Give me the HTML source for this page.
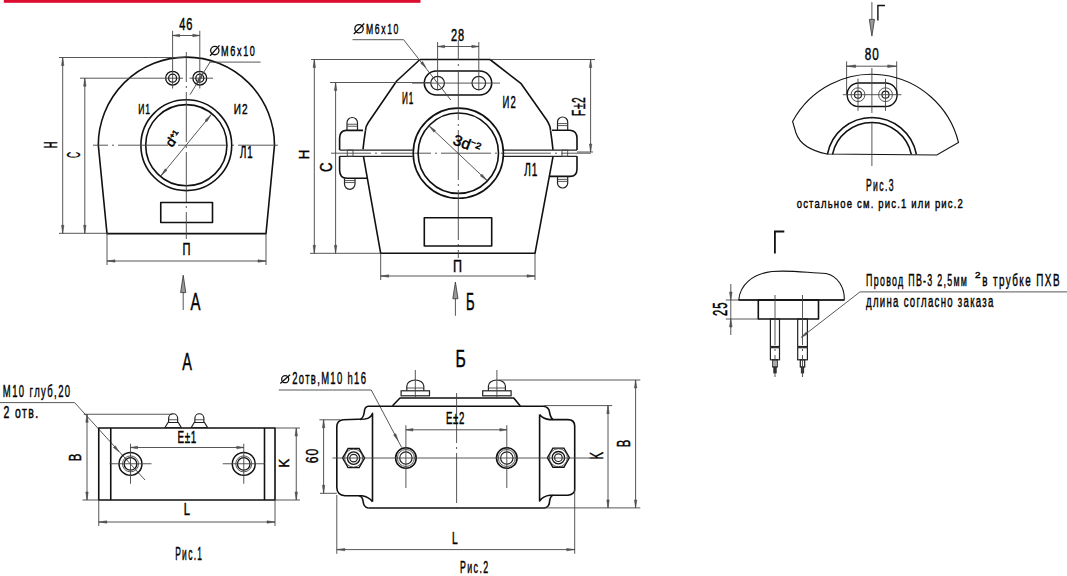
<!DOCTYPE html>
<html><head><meta charset="utf-8"><style>
html,body{margin:0;padding:0;background:#fff;}
svg{display:block;}
.t{fill:none;stroke:#111;stroke-width:1.6;stroke-linejoin:round;}
.m{fill:none;stroke:#222;stroke-width:1.2;}
.n{fill:none;stroke:#444;stroke-width:0.9;}
.g{fill:none;stroke:#111;stroke-width:1.8;}
.g2{fill:none;stroke:#111;stroke-width:1.4;}
.t15{fill:none;stroke:#111;stroke-width:1.5;}
.hb{fill:none;stroke:#111;stroke-width:1.3;}
.m1{fill:none;stroke:#111;stroke-width:1.1;}
.m2{fill:none;stroke:#111;stroke-width:1.4;}
.sy{fill:none;stroke:#111;stroke-width:1.3;}
.cl{fill:none;stroke:#444;stroke-width:0.9;stroke-dasharray:50 4 2 4;}
.ar{fill:#555;stroke:#444;stroke-width:0.5;}
.ba{fill:#999;stroke:#333;stroke-width:0.8;}
.f{fill:#222;stroke:#222;stroke-width:0.8;}
.tx{font-family:"Liberation Sans",sans-serif;fill:#000;stroke:#000;stroke-width:0.45;}
</style></head><body>
<svg width="1067" height="576" viewBox="0 0 1067 576">
<rect width="1067" height="576" fill="#fff"/>
<rect x="3.8" y="0" width="416.7" height="2.8" fill="#dc0b30"/>
<path d="M98.3,145.2 A88,88 0 0 1 274.5,145.2 L266,233.6 L107,233.6 Z" class="t"/>
<circle cx="186.3" cy="145.2" r="45.4" class="t"/>
<circle cx="186.3" cy="145.2" r="40.6" class="t"/>
<rect x="160.75" y="202.5" width="51.75" height="20" rx="0" class="t"/>
<circle cx="172.6" cy="78.2" r="6.9" class="hb"/>
<circle cx="172.6" cy="78.2" r="4" class="hb"/>
<line x1="172.6" y1="30.8" x2="172.6" y2="88.5" class="n"/>
<circle cx="199.8" cy="78.2" r="6.9" class="hb"/>
<circle cx="199.8" cy="78.2" r="4" class="hb"/>
<line x1="199.8" y1="30.8" x2="199.8" y2="88.5" class="n"/>
<line x1="93" y1="145.2" x2="278" y2="145.2" class="cl" stroke-dashoffset="35"/>
<line x1="186.3" y1="52" x2="186.3" y2="239" class="cl" stroke-dashoffset="20"/>
<line x1="160" y1="78.2" x2="183" y2="78.2" class="n"/>
<line x1="189.5" y1="78.2" x2="213" y2="78.2" class="n"/>
<line x1="59" y1="57.5" x2="185" y2="57.5" class="n"/>
<line x1="59" y1="233.3" x2="107" y2="233.3" class="n"/>
<line x1="62.7" y1="57.5" x2="62.7" y2="233.3" class="n"/>
<path d="M62.7,57.5 L63.9,65.5 L61.5,65.5 Z" class="ar"/>
<path d="M62.7,233.3 L61.5,225.3 L63.9,225.3 Z" class="ar"/>
<line x1="80" y1="78.2" x2="160" y2="78.2" class="n"/>
<line x1="84.8" y1="78.2" x2="84.8" y2="233.3" class="n"/>
<path d="M84.8,78.2 L86,86.2 L83.6,86.2 Z" class="ar"/>
<path d="M84.8,233.3 L83.6,225.3 L86,225.3 Z" class="ar"/>
<text transform="translate(57,148.3) rotate(-90) scale(0.5333333333333342,1)" textLength="12.75" lengthAdjust="spacing" font-size="17.54" class="tx">H</text>
<text transform="translate(79.5,158) rotate(-90) scale(0.4784313725490192,1)" textLength="12.75" lengthAdjust="spacing" font-size="17.54" class="tx">C</text>
<line x1="172.6" y1="35.5" x2="199.8" y2="35.5" class="n"/>
<path d="M172.6,35.5 L179.6,34.2 L179.6,36.8 Z" class="ar"/>
<path d="M199.8,35.5 L192.8,36.8 L192.8,34.2 Z" class="ar"/>
<text transform="translate(179.2,30.3) scale(0.668934865900384,1)" textLength="19.73" lengthAdjust="spacing" font-size="16.52" class="tx">46</text>
<circle cx="214.8" cy="50.6" r="4.16" class="sy"/>
<line x1="210.1" y1="55.8" x2="219.5" y2="45.4" class="sy"/>
<text transform="translate(221,55.8) scale(0.6023006853474452,1)" textLength="56.28" lengthAdjust="spacing" font-size="15.07" class="tx">M6x10</text>
<line x1="209" y1="62.1" x2="260.6" y2="62.1" class="n"/>
<line x1="210" y1="62.1" x2="190" y2="94.7" class="n"/>
<path d="M203.5,72.6 L201.01,79.27 L198.78,77.93 Z" class="ar"/>
<path d="M195.8,85.3 L198.29,78.63 L200.52,79.97 Z" class="ar"/>
<line x1="161" y1="175.8" x2="211" y2="114.8" class="n"/>
<path d="M161,175.8 L165.14,168.85 L167,170.37 Z" class="ar"/>
<path d="M211,114.8 L206.86,121.75 L205,120.23 Z" class="ar"/>
<text transform="translate(172,148) rotate(-55)" textLength="17" lengthAdjust="spacingAndGlyphs" font-size="13" class="tx">d⁺¹</text>
<text transform="translate(138.25,113.75) scale(0.5911749788672865,1)" textLength="19.88" lengthAdjust="spacing" font-size="14.49" class="tx">И1</text>
<text transform="translate(233.75,113.75) scale(0.6918005071851226,1)" textLength="19.88" lengthAdjust="spacing" font-size="14.49" class="tx">И2</text>
<text transform="translate(240,157.5) scale(0.5900079302141158,1)" textLength="21.19" lengthAdjust="spacing" font-size="16.30" class="tx">Л1</text>
<line x1="107" y1="233.3" x2="107" y2="265" class="n"/>
<line x1="266" y1="233.3" x2="266" y2="265" class="n"/>
<line x1="107" y1="261" x2="266" y2="261" class="n"/>
<path d="M107,261 L115,259.8 L115,262.2 Z" class="ar"/>
<path d="M266,261 L258,262.2 L258,259.8 Z" class="ar"/>
<text transform="translate(182.5,255) scale(0.6956521739130435,1)" textLength="11.5" lengthAdjust="spacing" font-size="15.94" class="tx">П</text>
<line x1="183.2" y1="292" x2="183.2" y2="310" class="n"/>
<path d="M183.2,275.2 L185.8,292.6 L180.6,292.6 Z" class="ba"/>
<text transform="translate(190.4,310.4) scale(0.625,1)" textLength="16" lengthAdjust="spacing" font-size="23.91" class="tx">A</text>
<path d="M420,59.5 L490,59.5 L520.8,83.3 L546.7,120 Q550.5,126 550.5,130.3" class="t"/>
<path d="M420,59.5 L396.7,81 L368.3,122.5 Q365.8,126 365.5,130.4" class="t"/>
<path d="M365.5,130.4 Q364,140 363,149.3" class="t"/>
<path d="M550.5,130.3 Q552,140 553,149.8" class="t"/>
<path d="M363.5,156.7 L380.7,253.3 L535,253.3 L553,156.7" class="t"/>
<line x1="339.6" y1="150.1" x2="412.6" y2="150.1" class="m"/>
<line x1="504" y1="150.1" x2="577" y2="150.1" class="m"/>
<line x1="339.6" y1="156.3" x2="412.6" y2="156.3" class="m"/>
<line x1="504" y1="156.3" x2="577" y2="156.3" class="m"/>
<line x1="331" y1="153.2" x2="591" y2="153.2" class="cl" stroke-dashoffset="10"/>
<circle cx="458.3" cy="153.2" r="45.1" class="t"/>
<circle cx="458.3" cy="153.2" r="40.2" class="t"/>
<path d="M363,130.4 L346,130.4 Q339.6,131 339.6,138 L339.6,150.1" class="t"/>
<path d="M339.6,156.3 L339.6,170 Q339.6,178.3 347,178.3 L367.6,178.3" class="t"/>
<path d="M552,130.2 L570,130.2 Q577,131 577,138 L577,150.1" class="t"/>
<path d="M577,156.3 L577,169 Q577,176.4 570,176.4 L550,176.4" class="t"/>
<rect x="347.3" y="150.1" width="5.7" height="6.2" rx="0" class="n"/>
<rect x="562" y="150.1" width="5.7" height="6.2" rx="0" class="n"/>
<path d="M347,130.4 L347,122.75 A5.25,5.25 0 0 1 357.5,122.75 L357.5,130.4" class="m"/>
<line x1="347" y1="124.25" x2="357.5" y2="124.25" class="n"/>
<line x1="347" y1="126.25" x2="357.5" y2="126.25" class="n"/>
<path d="M557.5,130.2 L557.5,122.1 A5.1,5.1 0 0 1 567.7,122.1 L567.7,130.2" class="m"/>
<line x1="557.5" y1="123.6" x2="567.7" y2="123.6" class="n"/>
<line x1="557.5" y1="125.6" x2="567.7" y2="125.6" class="n"/>
<path d="M344.5,178.3 L344.5,184.05 A5.25,5.25 0 0 0 355,184.05 L355,178.3" class="m"/>
<line x1="344.5" y1="182.55" x2="355" y2="182.55" class="n"/>
<line x1="344.5" y1="180.55" x2="355" y2="180.55" class="n"/>
<path d="M557.5,176.4 L557.5,182.9 A5.1,5.1 0 0 0 567.7,182.9 L567.7,176.4" class="m"/>
<line x1="557.5" y1="181.4" x2="567.7" y2="181.4" class="n"/>
<line x1="557.5" y1="179.4" x2="567.7" y2="179.4" class="n"/>
<rect x="424.3" y="71" width="67.4" height="24" rx="12" class="t"/>
<circle cx="437.6" cy="83.1" r="6.8" class="m"/>
<line x1="437.6" y1="42" x2="437.6" y2="90" class="n"/>
<circle cx="478.8" cy="83.1" r="6.8" class="m"/>
<line x1="478.8" y1="42" x2="478.8" y2="90" class="n"/>
<line x1="412" y1="83.1" x2="500" y2="83.1" class="n"/>
<line x1="437.6" y1="46.5" x2="478.8" y2="46.5" class="n"/>
<path d="M437.6,46.5 L444.6,45.2 L444.6,47.8 Z" class="ar"/>
<path d="M478.8,46.5 L471.8,47.8 L471.8,45.2 Z" class="ar"/>
<text transform="translate(450.9,40.6) scale(0.6955504014272983,1)" textLength="18.83" lengthAdjust="spacing" font-size="15.80" class="tx">28</text>
<circle cx="359.05" cy="28.75" r="4.2" class="sy"/>
<line x1="353.8" y1="34" x2="364.3" y2="23.5" class="sy"/>
<text transform="translate(366,34) scale(0.5663156097977294,1)" textLength="57.21" lengthAdjust="spacing" font-size="15.22" class="tx">M6x10</text>
<line x1="352.5" y1="39.7" x2="403.6" y2="39.7" class="n"/>
<line x1="403.6" y1="39.7" x2="450.8" y2="100" class="n"/>
<path d="M426,67.8 L420.63,63.13 L422.67,61.51 Z" class="ar"/>
<line x1="458.3" y1="40" x2="458.3" y2="258" class="cl" stroke-dashoffset="30"/>
<line x1="311" y1="59.5" x2="420" y2="59.5" class="n"/>
<line x1="490" y1="59.5" x2="595" y2="59.5" class="n"/>
<line x1="310" y1="253.3" x2="380.7" y2="253.3" class="n"/>
<line x1="314.3" y1="59.5" x2="314.3" y2="253.3" class="n"/>
<path d="M314.3,59.5 L315.5,67.5 L313.1,67.5 Z" class="ar"/>
<path d="M314.3,253.3 L313.1,245.3 L315.5,245.3 Z" class="ar"/>
<line x1="330" y1="82.5" x2="430" y2="82.5" class="n"/>
<line x1="335.6" y1="82.5" x2="335.6" y2="253.3" class="n"/>
<path d="M335.6,82.5 L336.8,90.5 L334.4,90.5 Z" class="ar"/>
<path d="M335.6,253.3 L334.4,245.3 L336.8,245.3 Z" class="ar"/>
<text transform="translate(308.5,159.5) rotate(-90) scale(0.9090909090909091,1)" textLength="11" lengthAdjust="spacing" font-size="15.22" class="tx">H</text>
<text transform="translate(331.5,172) rotate(-90) scale(0.8260869565217391,1)" textLength="11.5" lengthAdjust="spacing" font-size="15.94" class="tx">C</text>
<line x1="428.9" y1="125.8" x2="487" y2="180.5" class="n"/>
<path d="M428.9,125.8 L435.55,130.41 L433.9,132.16 Z" class="ar"/>
<path d="M487,180.5 L480.35,175.89 L482,174.14 Z" class="ar"/>
<text transform="translate(452,144) rotate(20)" textLength="28" lengthAdjust="spacingAndGlyphs" font-size="15" class="tx">3d⁻²</text>
<text transform="translate(401.9,104.1) scale(0.49959220055710357,1)" textLength="22.62" lengthAdjust="spacing" font-size="16.38" class="tx">И1</text>
<text transform="translate(502.6,107.6) scale(0.5791732590529258,1)" textLength="22.62" lengthAdjust="spacing" font-size="16.38" class="tx">И2</text>
<text transform="translate(524.3,176.1) scale(0.5741620029455091,1)" textLength="22.82" lengthAdjust="spacing" font-size="17.54" class="tx">Л1</text>
<line x1="590.6" y1="59.5" x2="590.6" y2="152" class="n"/>
<path d="M590.6,59.5 L591.8,67.5 L589.4,67.5 Z" class="ar"/>
<path d="M590.6,152 L589.4,144 L591.8,144 Z" class="ar"/>
<line x1="577" y1="152" x2="593" y2="152" class="n"/>
<text transform="translate(585,115.9) rotate(-90) scale(0.5630575439484002,1)" textLength="33.21" lengthAdjust="spacing" font-size="18.12" class="tx">F±2</text>
<rect x="424.3" y="217.7" width="67.4" height="28.3" rx="0" class="t"/>
<line x1="380.7" y1="253.3" x2="380.7" y2="280" class="n"/>
<line x1="535" y1="253.3" x2="535" y2="280" class="n"/>
<line x1="380.7" y1="276" x2="535" y2="276" class="n"/>
<path d="M380.7,276 L388.7,274.8 L388.7,277.2 Z" class="ar"/>
<path d="M535,276 L527,277.2 L527,274.8 Z" class="ar"/>
<text transform="translate(453,272) scale(0.75,1)" textLength="12" lengthAdjust="spacing" font-size="16.67" class="tx">П</text>
<line x1="455.4" y1="298" x2="455.4" y2="315.8" class="n"/>
<path d="M455.4,282 L458,298.75 L452.8,298.75 Z" class="ba"/>
<text transform="translate(466,309.9) scale(0.5437499999999993,1)" textLength="16" lengthAdjust="spacing" font-size="24.20" class="tx">Б</text>
<line x1="871.9" y1="2.1" x2="871.9" y2="20" class="n"/>
<path d="M871.9,36.1 L874.5,19.4 L869.3,19.4 Z" class="ba"/>
<path d="M877.9,20.5 L877.9,5.5 L885,5.5" class="g2"/>
<text transform="translate(864.7,60.4) scale(0.6785667752442998,1)" textLength="20.63" lengthAdjust="spacing" font-size="17.25" class="tx">80</text>
<line x1="846.6" y1="61.3" x2="846.6" y2="94.5" class="n"/>
<line x1="896.7" y1="61.3" x2="896.7" y2="94.5" class="n"/>
<line x1="846.6" y1="66.2" x2="896.7" y2="66.2" class="n"/>
<path d="M846.6,66.2 L855.6,64.9 L855.6,67.5 Z" class="ar"/>
<path d="M896.7,66.2 L887.7,67.5 L887.7,64.9 Z" class="ar"/>
<path d="M792.6,121.5 A89.6,89.6 0 0 1 958.5,142.5 L936.8,155 L827,154 C812,151 800,145 796,133 Z" class="m1"/>
<path d="M827.39,154.4 A45.3,45.3 0 0 1 916.41,154.4" class="t"/>
<path d="M832.49,154.4 A40.3,40.3 0 0 1 911.31,154.4" class="t"/>
<rect x="847.2" y="83" width="49.9" height="23.5" rx="11.5" class="m2"/>
<circle cx="858" cy="94.7" r="6.9" class="n"/>
<circle cx="858" cy="94.7" r="3.5" class="m"/>
<line x1="858" y1="78.7" x2="858" y2="110.8" class="n"/>
<circle cx="885.5" cy="94.7" r="6.9" class="n"/>
<circle cx="885.5" cy="94.7" r="3.5" class="m"/>
<line x1="885.5" y1="78.7" x2="885.5" y2="110.8" class="n"/>
<line x1="842.8" y1="94.7" x2="901.4" y2="94.7" class="n"/>
<line x1="871.9" y1="68" x2="871.9" y2="166" class="cl" stroke-dashoffset="5"/>
<text transform="translate(866,190.75) scale(0.5056109165993357,1)" textLength="54.39" lengthAdjust="spacing" font-size="17.03" class="tx">Рис.3</text>
<text transform="translate(796.7,207.7) scale(0.7033176295561614,1)" textLength="236.31" lengthAdjust="spacing" font-size="13.48" class="tx">остальное см. рис.1 или рис.2</text>
<path d="M774.9,253.5 L774.9,231.5 L784.3,231.5" class="g"/>
<path d="M738.7,300 C740,285 752,274 772,271.5 C790,270 805,272.5 826,273.5 C838,276 845,288 844.2,300 Z" class="m1"/>
<rect x="758.3" y="300" width="60.2" height="19" rx="0" class="t"/>
<line x1="738.7" y1="300" x2="844.2" y2="300" class="t"/>
<line x1="725.8" y1="300" x2="738.7" y2="300" class="n"/>
<line x1="725.8" y1="319" x2="758.3" y2="319" class="n"/>
<line x1="730.8" y1="284" x2="730.8" y2="335" class="n"/>
<path d="M730.8,300 L729.5,292 L732.1,292 Z" class="ar"/>
<path d="M730.8,319 L732.1,327 L729.5,327 Z" class="ar"/>
<text transform="translate(726.7,316) rotate(-90) scale(0.57149359886202,1)" textLength="23.62" lengthAdjust="spacing" font-size="19.86" class="tx">25</text>
<rect x="770.4" y="319" width="9.1" height="27.5" rx="0" class="m"/>
<rect x="770.4" y="347.7" width="9.1" height="12.1" rx="0" class="m"/>
<rect x="772.8" y="359.8" width="4.4" height="7.2" rx="0" class="m"/>
<rect x="773.8" y="367" width="2.4" height="6" rx="0" class="f"/>
<line x1="775" y1="295" x2="775" y2="377" class="cl" stroke-dashoffset="0"/>
<rect x="797.7" y="319" width="9.7" height="27.5" rx="0" class="m"/>
<rect x="797.7" y="347.7" width="9.7" height="12.1" rx="0" class="m"/>
<rect x="800.3" y="359.8" width="4.4" height="7.2" rx="0" class="m"/>
<rect x="801.3" y="367" width="2.4" height="6" rx="0" class="f"/>
<line x1="802.5" y1="295" x2="802.5" y2="377" class="cl" stroke-dashoffset="0"/>
<line x1="801.4" y1="337.3" x2="860" y2="291.9" class="n"/>
<path d="M801.4,337.3 L806.14,331.99 L807.73,334.04 Z" class="ar"/>
<line x1="860" y1="291.9" x2="1067" y2="291.9" class="n"/>
<text transform="translate(866.1,286.3) scale(0.5233575865128658,1)" textLength="192.6" lengthAdjust="spacing" font-size="16.96" class="tx">Провод ПВ-3 2,5мм</text>
<text transform="translate(975,277.5) scale(1.0476190476190477,1)" textLength="5.25" lengthAdjust="spacing" font-size="9.42" class="tx">2</text>
<text transform="translate(982.2,286.3) scale(0.5837619381245618,1)" textLength="132.42" lengthAdjust="spacing" font-size="16.96" class="tx">в трубке ПХВ</text>
<text transform="translate(866,306.9) scale(0.5666526224345748,1)" textLength="224.83" lengthAdjust="spacing" font-size="16.96" class="tx">длина согласно заказа</text>
<text transform="translate(182.2,369.9) scale(0.6258064516129044,1)" textLength="15.5" lengthAdjust="spacing" font-size="23.19" class="tx">A</text>
<text transform="translate(2.85,396.9) scale(0.5798097162583145,1)" textLength="115.99" lengthAdjust="spacing" font-size="16.38" class="tx">M10 глуб,20</text>
<text transform="translate(3.4,417.5) scale(0.6402299676607978,1)" textLength="54.36" lengthAdjust="spacing" font-size="16.38" class="tx">2 отв.</text>
<line x1="0" y1="402.6" x2="74.6" y2="402.6" class="n"/>
<line x1="74.6" y1="402.6" x2="145" y2="480" class="n"/>
<path d="M119,451.8 L113.35,447.47 L115.28,445.73 Z" class="ar"/>
<rect x="98.75" y="428" width="176.25" height="72" rx="0" class="t"/>
<line x1="110.75" y1="428" x2="110.75" y2="500" class="t"/>
<line x1="264.5" y1="428" x2="264.5" y2="500" class="t"/>
<line x1="83.75" y1="414.25" x2="172.5" y2="414.25" class="n"/>
<line x1="82.5" y1="500" x2="98.75" y2="500" class="n"/>
<line x1="87" y1="414.25" x2="87" y2="500" class="n"/>
<path d="M87,414.25 L88.2,422.25 L85.8,422.25 Z" class="ar"/>
<path d="M87,500 L85.8,492 L88.2,492 Z" class="ar"/>
<text transform="translate(81.25,461.25) rotate(-90) scale(0.6976744186046512,1)" textLength="10.75" lengthAdjust="spacing" font-size="16.30" class="tx">B</text>
<path d="M165,427.5 L168,422.5 L178.25,422.5 L181.25,427.5 Z" class="m"/>
<path d="M168.62,422.5 L168.62,418.25 A4.5,4.5 0 0 1 177.62,418.25 L177.62,422.5" class="m"/>
<line x1="168.62" y1="419.75" x2="177.62" y2="419.75" class="n"/>
<path d="M191.25,427.5 L194.25,422.5 L204.5,422.5 L207.5,427.5 Z" class="m"/>
<path d="M194.88,422.5 L194.88,418.25 A4.5,4.5 0 0 1 203.88,418.25 L203.88,422.5" class="m"/>
<line x1="194.88" y1="419.75" x2="203.88" y2="419.75" class="n"/>
<circle cx="130.5" cy="463.9" r="11.45" class="t15"/>
<circle cx="130.5" cy="463.9" r="8" class="n"/>
<circle cx="130.5" cy="463.9" r="6.3" class="hb"/>
<line x1="109.5" y1="463.75" x2="151.5" y2="463.75" class="n"/>
<line x1="130.5" y1="443.75" x2="130.5" y2="483.75" class="n"/>
<circle cx="243.75" cy="463.9" r="11.45" class="t15"/>
<circle cx="243.75" cy="463.9" r="8" class="n"/>
<circle cx="243.75" cy="463.9" r="6.3" class="hb"/>
<line x1="222.75" y1="463.75" x2="264.75" y2="463.75" class="n"/>
<line x1="243.75" y1="443.75" x2="243.75" y2="483.75" class="n"/>
<line x1="130.5" y1="447.5" x2="243.75" y2="447.5" class="n"/>
<path d="M130.5,447.5 L137.5,446.2 L137.5,448.8 Z" class="ar"/>
<path d="M243.75,447.5 L236.75,448.8 L236.75,446.2 Z" class="ar"/>
<text transform="translate(177.5,442.5) scale(0.6055344546934346,1)" textLength="30.96" lengthAdjust="spacing" font-size="16.30" class="tx">E±1</text>
<line x1="275" y1="428" x2="300" y2="428" class="n"/>
<line x1="275" y1="500" x2="300" y2="500" class="n"/>
<line x1="296.25" y1="428" x2="296.25" y2="500" class="n"/>
<path d="M296.25,428 L297.45,436 L295.05,436 Z" class="ar"/>
<path d="M296.25,500 L295.05,492 L297.45,492 Z" class="ar"/>
<text transform="translate(288.75,467.5) rotate(-90) scale(0.8974358974358975,1)" textLength="9.75" lengthAdjust="spacing" font-size="14.49" class="tx">K</text>
<line x1="98.75" y1="500" x2="98.75" y2="526" class="n"/>
<line x1="275" y1="500" x2="275" y2="526" class="n"/>
<line x1="98.75" y1="522" x2="275" y2="522" class="n"/>
<path d="M98.75,522 L106.75,520.8 L106.75,523.2 Z" class="ar"/>
<path d="M275,522 L267,523.2 L267,520.8 Z" class="ar"/>
<text transform="translate(183.75,515) scale(0.6944444444444444,1)" textLength="9" lengthAdjust="spacing" font-size="16.30" class="tx">L</text>
<text transform="translate(175.2,559.8) scale(0.4653361593895721,1)" textLength="57.59" lengthAdjust="spacing" font-size="18.12" class="tx">Рис.1</text>
<text transform="translate(455.4,367.3) scale(0.6500000000000021,1)" textLength="16" lengthAdjust="spacing" font-size="24.20" class="tx">Б</text>
<circle cx="285.2" cy="379.2" r="3.52" class="sy"/>
<line x1="280.3" y1="383.6" x2="290.1" y2="374.8" class="sy"/>
<text transform="translate(292.2,384.1) scale(0.5469348117549009,1)" textLength="134.75" lengthAdjust="spacing" font-size="17.25" class="tx">2отв,M10 h16</text>
<line x1="278.75" y1="390" x2="371.25" y2="390" class="n"/>
<line x1="371.25" y1="390" x2="401.7" y2="447.5" class="n"/>
<path d="M398,440.5 L393.57,434.92 L395.87,433.71 Z" class="ar"/>
<path d="M392.5,405.8 L400,398 L513.75,398 L520.3,406" class="t"/>
<rect x="401.1" y="390.8" width="28.4" height="5" rx="0" class="m"/>
<path d="M406.8,390.8 L406.8,386 A8.5,6 0 0 1 423.8,386 L423.8,390.8" class="m"/>
<line x1="406.8" y1="388" x2="423.8" y2="388" class="n"/>
<line x1="415.3" y1="370" x2="415.3" y2="398" class="n"/>
<rect x="482.7" y="390.8" width="28.4" height="5" rx="0" class="m"/>
<path d="M488.4,390.8 L488.4,386 A8.5,6 0 0 1 505.4,386 L505.4,390.8" class="m"/>
<line x1="488.4" y1="388" x2="505.4" y2="388" class="n"/>
<line x1="496.9" y1="370" x2="496.9" y2="398" class="n"/>
<path d="M368,406.2 L543.5,406.2 Q549,407 549.5,412 Q550.5,418 553,419.6" class="t"/>
<path d="M368,406.2 Q364.5,407 364.3,412 Q363.5,418 360,419.75" class="t"/>
<path d="M368.3,508 L544.7,508 Q549.5,507 549.6,501 Q550.5,496 553,495.3" class="t"/>
<path d="M368.3,508 Q363.5,507 363.2,501.7 Q362.5,496.5 359,495.8" class="t"/>
<path d="M372.5,501.7 L372.5,413.4 Q371,418 365,419 L343,419.8 Q336.8,420.5 336.8,427 L336.8,487.5 Q337,495 345,495.8 L362,495.8 Q369,497 372.5,501.7" class="t"/>
<path d="M539.6,414.4 L539.6,501 Q543,496 550,495.3 L568,495.3 Q574.7,494 574.7,489.7 L574.7,426 Q574.5,419.6 568,419.6 L550,419.6 Q543,419 539.6,414.4" class="t"/>
<polygon points="364.6,458.1 359.1,467.63 348.1,467.63 342.6,458.1 348.1,448.57 359.1,448.57" class="m2"/>
<circle cx="353.6" cy="458.1" r="9.02" class="n"/>
<circle cx="353.6" cy="458.1" r="6.2" class="hb"/>
<circle cx="353.6" cy="458.1" r="3.8" class="m"/>
<polygon points="569.4,457.7 563.9,467.23 552.9,467.23 547.4,457.7 552.9,448.17 563.9,448.17" class="m2"/>
<circle cx="558.4" cy="457.7" r="9.02" class="n"/>
<circle cx="558.4" cy="457.7" r="6.2" class="hb"/>
<circle cx="558.4" cy="457.7" r="3.8" class="m"/>
<circle cx="405.9" cy="458" r="10.3" class="t"/>
<circle cx="405.9" cy="458" r="8.5" class="n"/>
<circle cx="405.9" cy="458" r="6.2" class="m"/>
<line x1="405.9" y1="425.2" x2="405.9" y2="488" class="n"/>
<circle cx="506.8" cy="458" r="10.3" class="t"/>
<circle cx="506.8" cy="458" r="8.5" class="n"/>
<circle cx="506.8" cy="458" r="6.2" class="m"/>
<line x1="506.8" y1="425.2" x2="506.8" y2="488" class="n"/>
<line x1="332.5" y1="458" x2="590" y2="458" class="n"/>
<line x1="456.6" y1="393" x2="456.6" y2="512.5" class="cl" stroke-dashoffset="0"/>
<line x1="405.9" y1="429.8" x2="506.8" y2="429.8" class="n"/>
<path d="M405.9,429.8 L412.9,428.5 L412.9,431.1 Z" class="ar"/>
<path d="M506.8,429.8 L499.8,431.1 L499.8,428.5 Z" class="ar"/>
<text transform="translate(445.9,423.9) scale(0.58851950828434,1)" textLength="31.43" lengthAdjust="spacing" font-size="16.38" class="tx">E±2</text>
<line x1="319.4" y1="419.8" x2="340" y2="419.8" class="n"/>
<line x1="320" y1="493.3" x2="336.8" y2="493.3" class="n"/>
<line x1="323.6" y1="419.8" x2="323.6" y2="493.3" class="n"/>
<path d="M323.6,419.8 L324.8,427.8 L322.4,427.8 Z" class="ar"/>
<path d="M323.6,493.3 L322.4,485.3 L324.8,485.3 Z" class="ar"/>
<text transform="translate(317.7,463.2) rotate(-90) scale(0.7524916593503062,1)" textLength="19.14" lengthAdjust="spacing" font-size="15.94" class="tx">60</text>
<line x1="543.75" y1="405.6" x2="612.2" y2="405.6" class="n"/>
<line x1="544.7" y1="507.9" x2="640.3" y2="507.9" class="n"/>
<line x1="608" y1="405.6" x2="608" y2="507.9" class="n"/>
<path d="M608,405.6 L609.2,413.6 L606.8,413.6 Z" class="ar"/>
<path d="M608,507.9 L606.8,499.9 L609.2,499.9 Z" class="ar"/>
<text transform="translate(602.8,459.4) rotate(-90) scale(0.6382978723404256,1)" textLength="11.75" lengthAdjust="spacing" font-size="17.68" class="tx">K</text>
<line x1="498.75" y1="380" x2="640.3" y2="380" class="n"/>
<line x1="635.6" y1="380" x2="635.6" y2="507.9" class="n"/>
<path d="M635.6,380 L636.8,388 L634.4,388 Z" class="ar"/>
<path d="M635.6,507.9 L634.4,499.9 L636.8,499.9 Z" class="ar"/>
<text transform="translate(630,447.2) rotate(-90) scale(0.6382978723404256,1)" textLength="11.75" lengthAdjust="spacing" font-size="17.68" class="tx">B</text>
<line x1="336.8" y1="495" x2="336.8" y2="553.8" class="n"/>
<line x1="574.7" y1="489.7" x2="574.7" y2="553.8" class="n"/>
<line x1="336.8" y1="549.6" x2="574.7" y2="549.6" class="n"/>
<path d="M336.8,549.6 L344.8,548.4 L344.8,550.8 Z" class="ar"/>
<path d="M574.7,549.6 L566.7,550.8 L566.7,548.4 Z" class="ar"/>
<text transform="translate(452,544) scale(0.616216216216215,1)" textLength="9.25" lengthAdjust="spacing" font-size="16.67" class="tx">L</text>
<text transform="translate(459.9,573.2) scale(0.5528271652041208,1)" textLength="51.19" lengthAdjust="spacing" font-size="15.94" class="tx">Рис.2</text>
</svg></body></html>
